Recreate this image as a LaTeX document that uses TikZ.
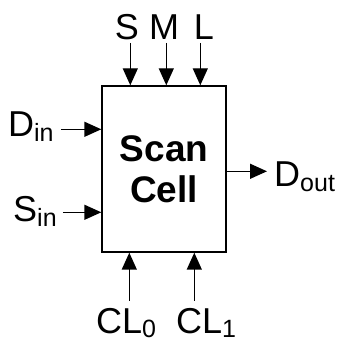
\documentclass[tikz,border=0pt]{standalone}
\usepackage{fontspec}
\setmainfont{Liberation Sans}
\usetikzlibrary{arrows.meta,positioning,calc}

\newcommand{\sigsub}[2]{#1\raisebox{-5pt}{\fontsize{25}{27}\selectfont #2}}

\begin{document}
\begin{tikzpicture}[x=1pt, y=1pt,
cell/.style={draw, line width=1.4pt, fill=white, minimum width=124pt, minimum height=166pt, inner sep=0pt, align=center, font=\fontsize{37}{41}\selectfont\bfseries},
sigtxt/.style={inner sep=3pt, font=\fontsize{36}{42}\selectfont},
sig/.style={-{Triangle[length=17pt, width=15pt]}, line width=1.4pt}
]
\useasboundingbox (0,0) rectangle (337,345);
\node[cell] (cell) at (164,176) {Scan\\Cell};

\coordinate (pS) at ($(cell.north west)+(29,0)$);
\coordinate (pM) at ($(cell.north west)+(65,0)$);
\coordinate (pL) at ($(cell.north west)+(99,0)$);
\coordinate (pDin) at ($(cell.north west)+(0,-44)$);
\coordinate (pSin) at ($(cell.north west)+(0,-127)$);
\coordinate (pDout) at ($(cell.north east)+(0,-86)$);
\coordinate (pCL0) at ($(cell.south west)+(28,0)$);
\coordinate (pCL1) at ($(cell.south west)+(93,0)$);

\node[sigtxt, anchor=south] (lS) at (127,302) {S};
\node[sigtxt, anchor=south] (lM) at (164,302) {M};
\node[sigtxt, anchor=south] (lL) at (204,302) {L};
\node[sigtxt, anchor=base west] (lDin) at (5,208) {\sigsub{D}{in}};
\node[sigtxt, anchor=base west] (lSin) at (10,123) {\sigsub{S}{in}};
\node[sigtxt, anchor=base west] (lDout) at (271,158) {\sigsub{D}{out}};
\node[sigtxt, anchor=base] (lCL0) at (126,12) {\sigsub{CL}{0}};
\node[sigtxt, anchor=base] (lCL1) at (206,12) {\sigsub{CL}{1}};

\draw[sig] (lS.south -| pS) -- (pS);
\draw[sig] (lM.south -| pM) -- (pM);
\draw[sig] (lL.south -| pL) -- (pL);
\draw[sig, shorten <=4pt] (lDin.east |- pDin) -- (pDin);
\draw[sig, shorten <=3pt] (lSin.east |- pSin) -- (pSin);
\draw[sig, shorten >=4pt] (pDout) -- (lDout.west |- pDout);
\draw[sig, shorten <=4pt] (lCL0.north -| pCL0) -- (pCL0);
\draw[sig, shorten <=4pt] (lCL1.north -| pCL1) -- (pCL1);
\end{tikzpicture}
\end{document}
